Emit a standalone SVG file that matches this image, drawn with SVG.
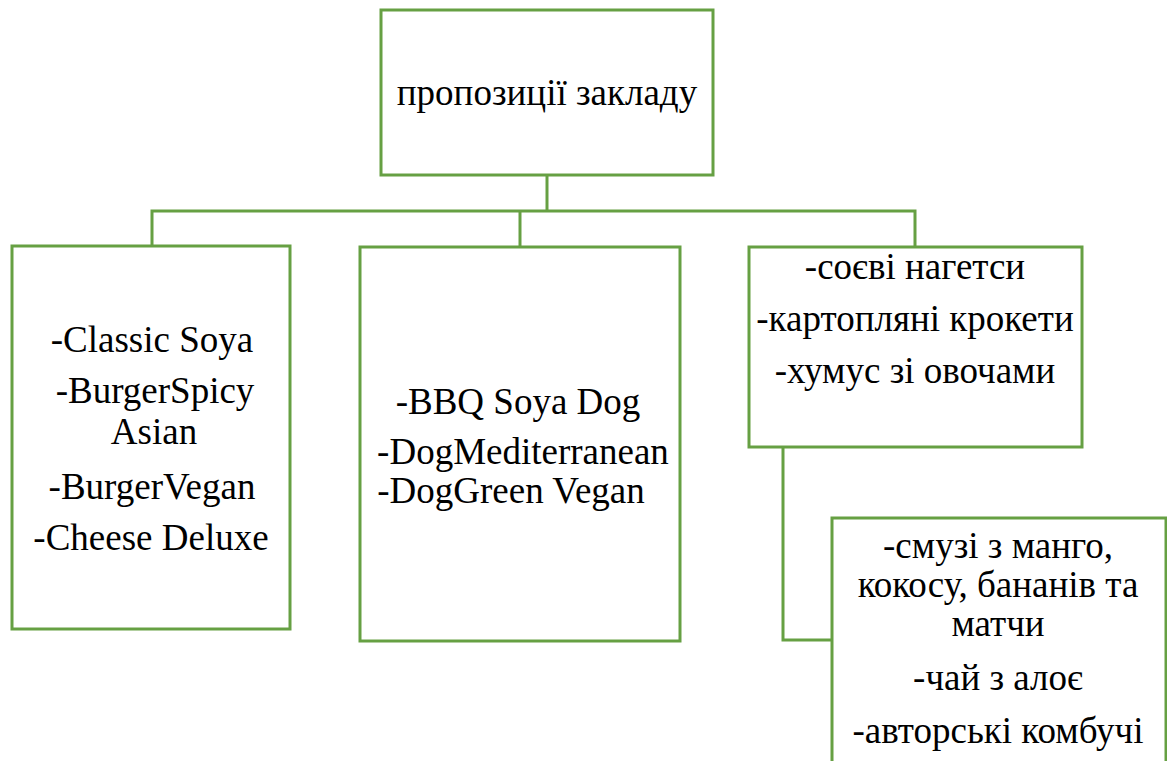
<svg xmlns="http://www.w3.org/2000/svg" width="1167" height="761" viewBox="0 0 1167 761">
<style>
.box{fill:#fff;stroke:#66a043;stroke-width:3}
.conn{fill:none;stroke:#66a043;stroke-width:3}
text{font-family:"Liberation Serif","DejaVu Serif",serif;font-size:37px;fill:#000;text-anchor:middle}
</style>
<rect width="1167" height="761" fill="#fff"/>
<g id="connectors">
<polyline class="conn" points="547,175 547,211"/>
<polyline class="conn" points="152,246 152,211 915,211 915,247"/>
<polyline class="conn" points="520,211 520,247"/>
<polyline class="conn" points="783,447 783,640 832,640"/>
</g>
<g id="root">
<rect class="box" x="381" y="10" width="332" height="165"/>
<text x="547" y="105">пропозиції закладу</text>
</g>
<g id="burgers">
<rect class="box" x="12" y="246" width="278" height="383"/>
<text x="152" y="352">-Classic Soya</text>
<text x="155" y="403">-BurgerSpicy</text>
<text x="154" y="444">Asian</text>
<text x="152" y="499">-BurgerVegan</text>
<text x="151" y="550">-Cheese Deluxe</text>
</g>
<g id="dogs">
<rect class="box" x="360" y="247" width="320" height="394"/>
<text x="518" y="414">-BBQ Soya Dog</text>
<text x="523" y="464">-DogMediterranean</text>
<text x="511" y="503">-DogGreen Vegan</text>
</g>
<g id="snacks">
<rect class="box" x="749" y="247" width="333" height="200"/>
<text x="915" y="279">-соєві нагетси</text>
<text x="915" y="331">-картопляні крокети</text>
<text x="915" y="383">-хумус зі овочами</text>
</g>
<g id="drinks">
<rect class="box" x="832" y="518" width="334" height="260"/>
<text x="998" y="558">-смузі з манго,</text>
<text x="998" y="597">кокосу, бананів та</text>
<text x="998" y="636">матчи</text>
<text x="998" y="690">-чай з алоє</text>
<text x="998" y="743">-авторські комбучі</text>
</g>
</svg>
